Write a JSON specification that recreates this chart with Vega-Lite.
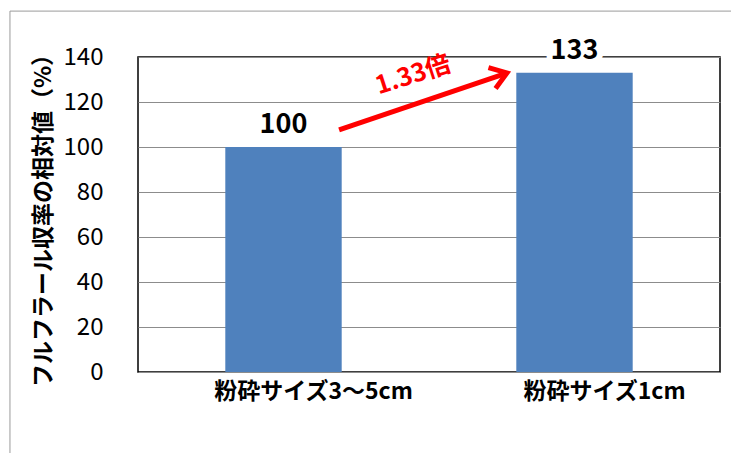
{
  "$schema": "https://vega.github.io/schema/vega-lite/v6.json",
  "width": 582,
  "height": 315,
  "autosize": {"type": "none"},
  "padding": {"left": 138, "top": 57, "right": 11, "bottom": 81},
  "background": "white",
  "config": {
    "font": "Noto Sans CJK JP",
    "view": {"stroke": "black", "strokeWidth": 1.5}
  },
  "datasets": {
    "bars": [
      {"size": "粉砕サイズ3〜5cm", "value": 100},
      {"size": "粉砕サイズ1cm", "value": 133}
    ],
    "arrow": [
      {"x": 0.691, "y": 107.6, "o": 0},
      {"x": 1.262, "y": 132.6, "o": 1}
    ],
    "head": [{"x": 1.268, "y": 132.9}],
    "note": [{"x": 0.945, "y": 132, "label": "1.33倍"}],
    "frame": [
      {"x": -0.44, "x2": 2.1, "y": 160.4, "y2": 160.4},
      {"x": -0.44, "x2": -0.44, "y": 160.4, "y2": -40}
    ]
  },
  "layer": [
    {
      "data": {"name": "bars"},
      "encoding": {
        "x": {
          "field": "size", "type": "nominal", "sort": null,
          "scale": {"paddingInner": 0.6, "paddingOuter": 0.3},
          "axis": {
            "title": null, "labelAngle": 0, "labelFontSize": 23, "labelFontWeight": "bold",
            "labelColor": "black", "labelPadding": 8, "ticks": false, "tickSize": 0,
            "domain": false, "labelOffset": 30, "labelLimit": 0
          }
        },
        "y": {
          "field": "value", "type": "quantitative",
          "scale": {"domain": [0, 140], "nice": false},
          "axis": {
            "title": "フルフラール収率の相対値（%）", "titleFontSize": 23, "titleFontWeight": "bold",
            "titleColor": "black", "titlePadding": 8,
            "values": [0, 20, 40, 60, 80, 100, 120, 140],
            "labelFontSize": 24, "labelColor": "black", "labelPadding": 35,
            "ticks": false, "tickSize": 0, "domain": false,
            "grid": true, "gridColor": "#8c8c8c", "gridWidth": 1
          }
        }
      },
      "layer": [
        {"mark": {"type": "bar", "color": "#4F81BD"}},
        {
          "mark": {"type": "text", "baseline": "alphabetic", "dy": -14, "fontSize": 27, "fontWeight": "bold",
                   "fill": "white", "stroke": "white", "strokeWidth": 12, "strokeJoin": "round"},
          "encoding": {"text": {"field": "value"}}
        },
        {
          "mark": {"type": "text", "baseline": "alphabetic", "dy": -14, "fontSize": 27, "fontWeight": "bold", "color": "black"},
          "encoding": {"text": {"field": "value"}}
        }
      ]
    },
    {
      "layer": [
        {
          "data": {"name": "frame"},
          "mark": {"type": "rule", "color": "#9a9a9a", "strokeWidth": 1},
          "encoding": {
            "x": {"field": "x", "type": "quantitative", "scale": {"domain": [0, 2], "nice": false, "zero": false}, "axis": null},
            "x2": {"field": "x2"},
            "y": {"field": "y", "type": "quantitative", "scale": {"domain": [0, 140], "nice": false}, "axis": null},
            "y2": {"field": "y2"}
          }
        },
        {
          "data": {"name": "arrow"},
          "mark": {"type": "line", "color": "#ff0000", "strokeWidth": 5, "strokeCap": "butt"},
          "encoding": {
            "x": {"field": "x", "type": "quantitative", "scale": {"domain": [0, 2], "nice": false, "zero": false}, "axis": null},
            "y": {"field": "y", "type": "quantitative", "scale": {"domain": [0, 140], "nice": false}, "axis": null},
            "order": {"field": "o"}
          }
        },
        {
          "data": {"name": "head"},
          "mark": {"type": "point", "shape": "M-1,-0.7L0,0L-1,0.7", "filled": false, "stroke": "#ff0000",
                   "strokeWidth": 5, "size": 1000, "angle": 341.3, "opacity": 1, "strokeJoin": "miter", "strokeCap": "butt"},
          "encoding": {
            "x": {"field": "x", "type": "quantitative", "scale": {"domain": [0, 2], "nice": false, "zero": false}, "axis": null},
            "y": {"field": "y", "type": "quantitative", "scale": {"domain": [0, 140], "nice": false}, "axis": null}
          }
        },
        {
          "data": {"name": "note"},
          "mark": {"type": "text", "color": "#ff0000", "fontSize": 25, "fontWeight": "bold", "angle": 342,
                   "align": "center", "baseline": "middle"},
          "encoding": {
            "x": {"field": "x", "type": "quantitative", "scale": {"domain": [0, 2], "nice": false, "zero": false}, "axis": null},
            "y": {"field": "y", "type": "quantitative", "scale": {"domain": [0, 140], "nice": false}, "axis": null},
            "text": {"field": "label"}
          }
        }
      ]
    }
  ],
  "resolve": {"scale": {"x": "independent", "y": "independent"}}
}
